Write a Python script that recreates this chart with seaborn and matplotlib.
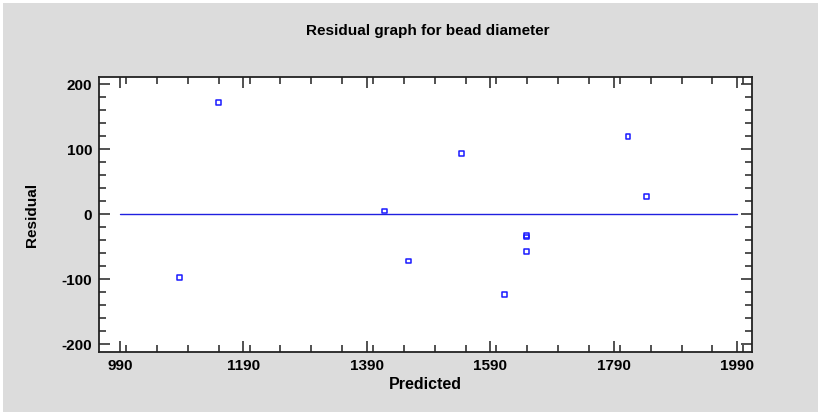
import matplotlib
matplotlib.use("Agg")
import matplotlib.pyplot as plt
import seaborn as sns
import pandas as pd
from matplotlib.ticker import MultipleLocator, FixedLocator
from matplotlib.patches import Rectangle

predicted = [1087, 1150, 1419, 1457, 1543, 1613, 1649, 1649, 1649, 1813, 1843]
residual = [-97, 172, 5, -72, 93, -124, -33, -35, -58, 119, 27]
x_ticks = [990, 1190, 1390, 1590, 1790, 1990]
y_ticks = [-200, -100, 0, 100, 200]
title = "Residual graph for bead diameter"
xlabel = "Predicted"
ylabel = "Residual"

df = pd.DataFrame({"Predicted": predicted, "Residual": residual})

sns.set_theme(style="white")
plt.rcParams['font.family'] = ['Liberation Sans', 'DejaVu Sans']
plt.rcParams['axes.unicode_minus'] = False
plt.rcParams['text.color'] = 'black'
plt.rcParams['xtick.labelcolor'] = 'black'
plt.rcParams['ytick.labelcolor'] = 'black'
plt.rcParams['axes.labelcolor'] = 'black'

fig = plt.figure(figsize=(8.18, 4.12), dpi=100)
fig.patch.set_facecolor("white")
fig.patches.append(Rectangle((3/818, 0), 1, 1 - 3/412, transform=fig.transFigure,
                             facecolor="#dcdcdc", edgecolor="none", zorder=-10))
ax = fig.add_axes([99/818, 1 - 352/412, (752 - 99)/818, (352 - 77)/412])
ax.set_facecolor("white")

ax.plot([990, 1990], [0, 0], color="#2020e0", lw=1.0, zorder=1)
sns.scatterplot(data=df, x="Predicted", y="Residual", ax=ax, marker="s", s=12,
                facecolor="none", edgecolor="#1a1aff", linewidth=1.1, zorder=3)

ax.set_xlim(956, 2014)
ax.set_ylim(-212, 211)
ax.xaxis.set_major_locator(FixedLocator(x_ticks))
ax.xaxis.set_minor_locator(MultipleLocator(50))
ax.yaxis.set_major_locator(FixedLocator(y_ticks))
ax.yaxis.set_minor_locator(MultipleLocator(20))
ax.tick_params(which="both", direction="in", top=True, right=True, bottom=True, left=True,
               color="#333333", width=1.2, labelcolor="black")
ax.tick_params(which="major", length=8, labelsize=11, pad=5)
ax.tick_params(which="minor", length=5)
for lab in ax.get_xticklabels() + ax.get_yticklabels():
    lab.set_fontweight("bold")
for s in ax.spines.values():
    s.set_visible(True)
    s.set_color("#222222")
    s.set_linewidth(1.3)

ax.set_xlabel(xlabel, fontsize=11.5, fontweight="bold", labelpad=3, color="black")
ax.set_ylabel(ylabel, fontsize=11, fontweight="bold", labelpad=16, color="black")
fig.text(428/818, 1 - 31/412, title, ha="center", va="center", fontsize=11,
         fontweight="bold", color="black")

fig.savefig("out.png", dpi=100, facecolor=fig.get_facecolor())
